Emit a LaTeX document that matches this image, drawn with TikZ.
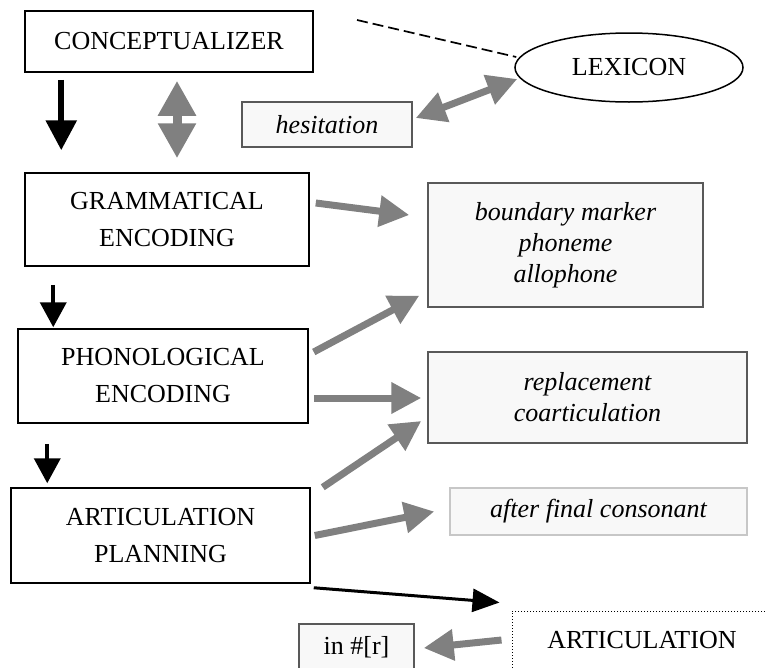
\documentclass[tikz,border=0pt]{standalone}
\usepackage{fontspec}
\setmainfont{Liberation Serif}
\usepackage{tikz}
\usetikzlibrary{arrows.meta,shapes.geometric}
\usepackage{xcolor}
\definecolor{lvgray}{HTML}{808080}
\definecolor{lvfill}{HTML}{F8F8F8}
\tikzset{
  lvbox/.style={draw, line width=1.5pt, inner sep=0pt, align=center, font=\fontsize{26}{37}\selectfont},
  lvnote/.style={draw=black!65, fill=lvfill, line width=1.5pt, inner sep=0pt, align=center, font=\fontsize{26}{31}\selectfont\itshape},
  lvgarrow/.style={-{Triangle[length=30pt, width=30pt]}, line width=7pt, lvgray},
  lvgdarrow/.style={{Triangle[length=30pt, width=30pt]}-{Triangle[length=30pt, width=30pt]}, line width=7pt, lvgray},
  lvbarrow/.style={-{Triangle[length=25pt, width=26pt]}, line width=4pt},
}

\begin{document}
\begin{tikzpicture}[x=1pt, y=-1pt]
  \useasboundingbox (0,0) rectangle (765,667);
  \clip (0,0) rectangle (765,667);
  % Main stages
  \node[lvbox, minimum width=288pt, minimum height=61pt] (concept) at (169,41.5) {CONCEPTUALIZER};
  \node[lvbox, minimum width=284pt, minimum height=93pt] (gram) at (167,219.5) {GRAMMATICAL\\ENCODING};
  \node[lvbox, minimum width=290pt, minimum height=94pt] (phon) at (163,376) {PHONOLOGICAL\\ENCODING};
  \node[lvbox, minimum width=299pt, minimum height=95pt] (artplan) at (160.5,535.5) {ARTICULATION\\PLANNING};
  \node[lvbox, line width=1pt, dotted, minimum width=300pt, minimum height=58pt] (artic) at (662,640) {ARTICULATION\hspace*{40pt}};

  % Lexicon
  \node[lvbox, ellipse, minimum width=228pt, minimum height=69pt] (lex) at (629,67.5) {LEXICON};

  % Error notes
  \node[lvnote, minimum width=170pt, minimum height=45pt] (hes) at (327,124.5) {hesitation};
  \node[lvnote, minimum width=275pt, minimum height=124pt] (bound) at (565.5,245) {boundary marker\\phoneme\\allophone};
  \node[lvnote, minimum width=319pt, minimum height=91pt] (repl) at (587.5,397.5) {replacement\\coarticulation};
  \node[lvnote, draw=black!22, minimum width=297pt, minimum height=47pt] (afterfc) at (598.5,511.5) {after final consonant};
  \node[lvnote, font=\fontsize{26}{31}\selectfont, minimum width=115pt, minimum height=46pt] (inr) at (356.5,647) {in \#[r]};

  % Downward flow
  \draw[lvbarrow, line width=6pt, -{Triangle[length=30pt, width=30pt]}]
    ([xshift=37pt, yshift=-7pt]concept.south west) -- ([xshift=37pt, yshift=22pt]gram.north west);
  \draw[lvbarrow] ([xshift=29pt, yshift=-18pt]gram.south west) -- ([xshift=36pt, yshift=1pt]phon.north west);
  \draw[lvbarrow] ([xshift=30pt, yshift=-20pt]phon.south west) -- ([xshift=37pt, yshift=4pt]artplan.north west);
  \draw[lvbarrow, line width=3pt, -{Triangle[length=27pt, width=23pt]}]
    ([xshift=3pt, yshift=-4pt]artplan.south east) -- ([xshift=-12pt, yshift=8pt]artic.north west);

  % Lexicon links
  \coordinate (dashend) at (357,20);
  \draw[line width=1.7pt, dash pattern=on 11pt off 5pt] (dashend) -- ([xshift=2pt, yshift=10.5pt]lex.west);
  \draw[lvgdarrow, line width=9pt, {Triangle[length=35pt, width=36pt]}-{Triangle[length=35pt, width=36pt]}]
    ([xshift=8pt, yshift=-8pt]concept.south) -- ([xshift=10pt, yshift=14pt]gram.north);
  \draw[lvgdarrow] ([xshift=3pt, yshift=6.5pt]hes.east) -- ([xshift=3pt, yshift=-11.5pt]lex.west);

  % Links to notes
  \draw[lvgarrow] ([xshift=6pt, yshift=16.5pt]gram.east) -- ([xshift=-18pt, yshift=30pt]bound.west);
  \draw[lvgarrow] ([xshift=5pt, yshift=24pt]phon.east) -- ([xshift=-8pt, yshift=12pt]bound.south west);
  \draw[lvgarrow] ([xshift=5pt, yshift=-22pt]phon.east) -- ([xshift=-6pt, yshift=-0.5pt]repl.west);
  \draw[lvgarrow] ([xshift=12pt]artplan.north east) -- ([xshift=-6pt, yshift=-23.5pt]repl.west);
  \draw[lvgarrow] ([xshift=4pt]artplan.east) -- ([xshift=-15pt]afterfc.west);
  \draw[lvgarrow] ([xshift=-10pt]artic.west) -- ([xshift=9pt, yshift=-1pt]inr.east);
\end{tikzpicture}
\end{document}
